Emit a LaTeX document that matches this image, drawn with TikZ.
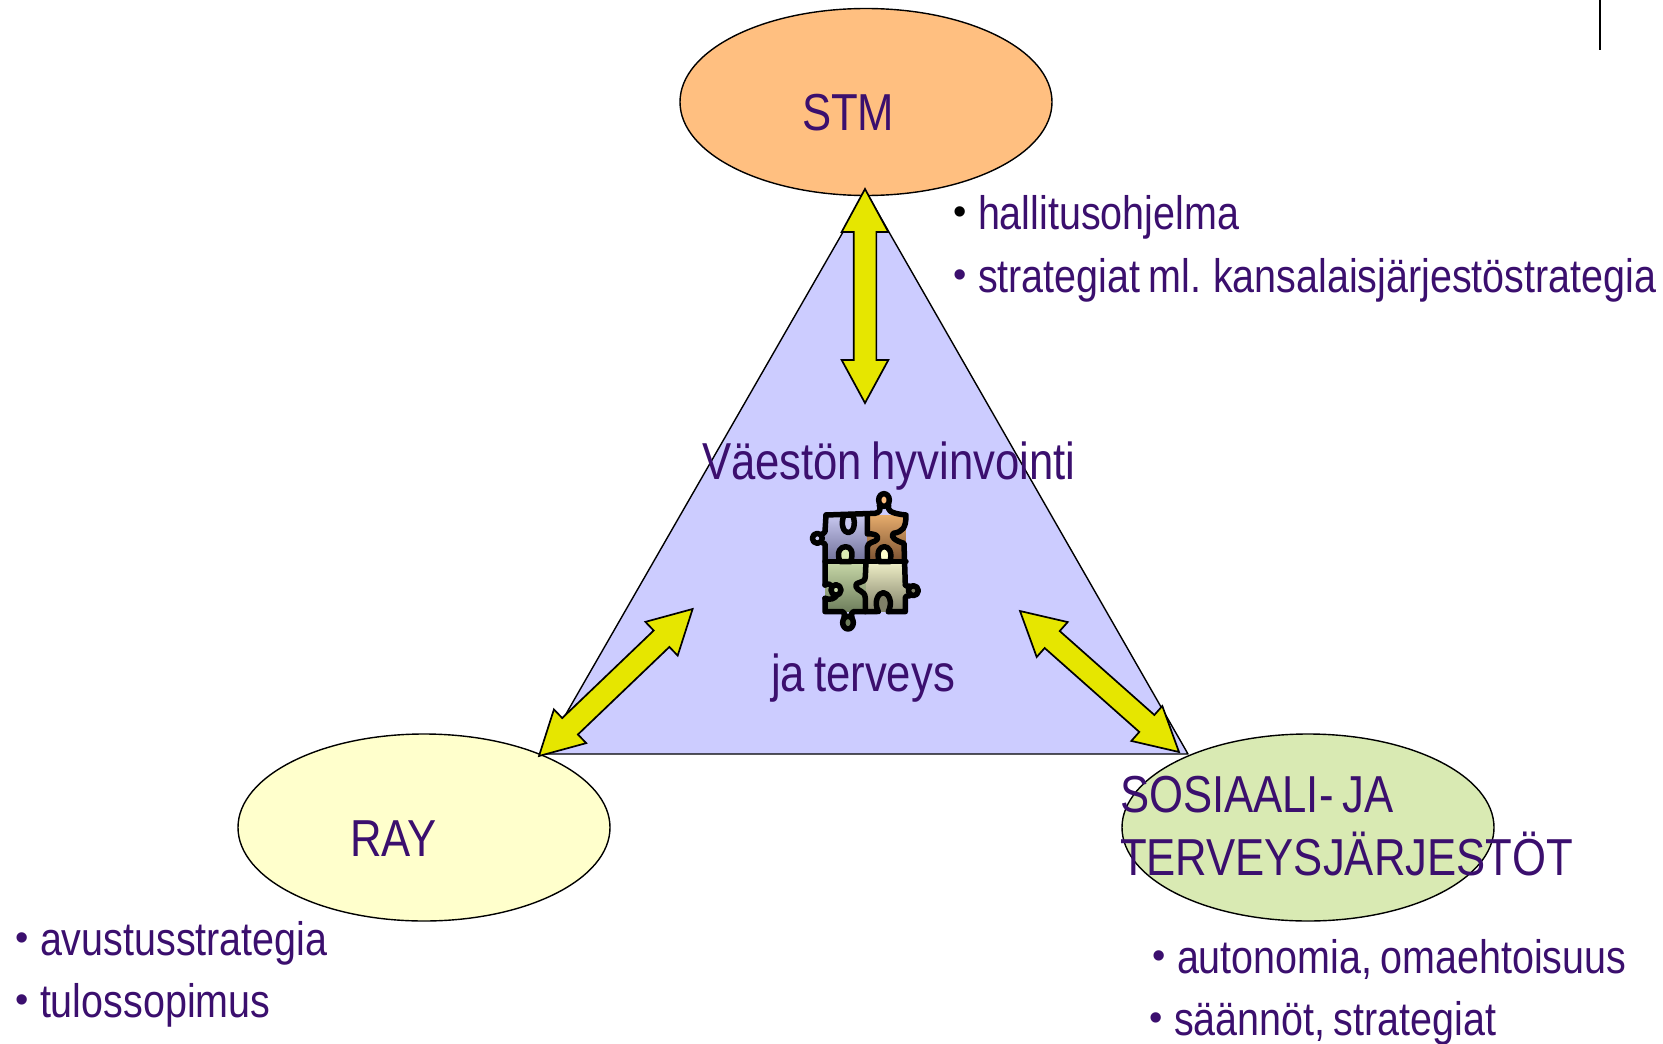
\documentclass[tikz,border=0pt]{standalone}
\usepackage{fontspec}
\setmainfont[FakeStretch=0.84,WordSpace=0.75]{Liberation Sans}
\newfontfamily\bulfont{Liberation Sans}
\usetikzlibrary{shapes.geometric,shapes.arrows,calc}
\definecolor{ink}{HTML}{3B0F6E}
\definecolor{tri}{HTML}{CCCCFF}
\definecolor{yel}{HTML}{E6E600}
\definecolor{stmc}{HTML}{FFBF80}
\definecolor{rayc}{HTML}{FFFFCC}
\definecolor{jarc}{HTML}{D9EAB3}
\definecolor{tl1}{HTML}{C8C8F0}
\definecolor{tl2}{HTML}{707098}
\definecolor{tr1}{HTML}{E6AC6C}
\definecolor{tr2}{HTML}{7A5030}
\definecolor{bl1}{HTML}{C8D8A8}
\definecolor{bl2}{HTML}{6E7E5C}
\definecolor{br1}{HTML}{F0F0C8}
\definecolor{br2}{HTML}{808068}
\newcommand{\bul}[1]{\makebox[25pt][l]{\bulfont\fontsize{38}{38}\selectfont\color{#1}\raisebox{5pt}{•}}}
\newcommand{\twoarrow}[2]{\path let \p1=($(#1)-(#2)$),\n1={atan2(\y1,\x1)},\n2={veclen(\x1,\y1)} in node[twoway,rotate=\n1,minimum height=\n2] at ($(#1)!.5!(#2)$) {};}
\tikzset{
 every node/.style={inner sep=0pt,outer sep=0pt},
 party/.style={ellipse,draw=black,line width=1.4pt,minimum width=372pt,minimum height=187pt},
 big/.style={text=ink,anchor=base west,font=\fontsize{52}{60}\selectfont},
 txt/.style={text=ink,anchor=base west,font=\fontsize{47}{54}\selectfont},
 twoway/.style={double arrow,draw=black,line width=1.7pt,fill=yel,inner ysep=10.5pt,inner xsep=0pt,double arrow head extend=12pt,double arrow tip angle=57,shape border uses incircle=false},
 piece/.style={line width=5.5pt,draw=black,line join=round,line cap=round},
}
\begin{document}
\begin{tikzpicture}[x=1pt,y=-1pt]
\useasboundingbox (0,0) rectangle (1663,1044);
\fill[white] (0,0) rectangle (1663,1044);
\draw[line width=1.4pt] (1600,0) -- (1600,50);
\coordinate (apex) at (866,192);
\coordinate (cl) at (543,754);
\coordinate (cr) at (1188,754);
\draw[fill=tri,line width=1.4pt,line join=round] (apex) -- (cl) -- (cr) -- cycle;
\node[party,fill=stmc] (stm) at (866,102) {};
\node[party,fill=rayc] (ray) at (424,827.5) {};
\node[party,fill=jarc] (jar) at (1308,827.5) {};
\coordinate (a1) at (865,189); \coordinate (a2) at (865,403);
\coordinate (b1) at (539,756); \coordinate (b2) at (692.6,609);
\coordinate (c1) at (1179,752); \coordinate (c2) at (1020,611);
\twoarrow{a1}{a2}
\twoarrow{b1}{b2}
\twoarrow{c1}{c2}
\node[big] (t1) at (802,130) {STM};
\node[big] (t2) at (350,856) {RAY};
\node[big] (t3) at (1120,812) {SOSIAALI- JA};
\node[big] (t4) at (1120,875) {TERVEYSJÄRJESTÖT};
\node[big] (t5) at (702,479) {Väestön hyvinvointi};
\node[big] (t6) at (771,691) {ja terveys};
\node[txt] (l1) at (953,229) {\bul{black}hallitusohjelma};
\node[txt] (l2) at (953,292) {\bul{ink}strategiat ml. kansalaisjärjestöstrategia};
\node[txt] (l3) at (15,955) {\bul{ink}avustusstrategia};
\node[txt] (l4) at (15,1017) {\bul{ink}tulossopimus};
\node[txt] (l5) at (1152,973) {\bul{ink}autonomia, omaehtoisuus};
\node[txt] (l6) at (1149,1035) {\bul{ink}säännöt, strategiat};
\begin{scope}[shift={(780,470)},x=0.3333pt,y=-0.3333pt]
 \shade[top color=tl1,bottom color=tl2] (135,135) rectangle (262,275);
 \shade[top color=tr1,bottom color=tr2] (262,135) rectangle (378,275);
 \shade[top color=bl1,bottom color=bl2] (135,275) rectangle (258,425);
 \shade[top color=br1,bottom color=br2] (258,275) rectangle (378,425);
 % knobs
 \draw[piece,fill=tl1] (112,205) circle (15);
 \draw[piece,fill=stmc] (312,90) ellipse (16 and 19);
 \draw[piece,fill=bl2] (204,458) ellipse (16 and 19);
 \draw[piece,fill=br2] (400,362) circle (15);
 % outline
 \draw[piece] (138,135) -- (285,130) .. controls (300,128) and (303,118) .. (298,105);
 \draw[piece] (326,105) .. controls (322,118) and (325,130) .. (378,135) .. controls (378,175) and (368,185) .. (340,190) .. controls (330,200) and (345,212) .. (372,220) -- (376,345);
 \draw[piece] (376,345) .. controls (380,350) and (383,350) .. (388,348);
 \draw[piece] (388,378) .. controls (383,376) and (378,378) .. (376,382) -- (376,425) -- (325,425);
 \draw[piece] (290,425) -- (220,425) .. controls (212,428) and (213,435) .. (216,442);
 \draw[piece] (192,442) .. controls (195,435) and (195,428) .. (188,425) -- (135,425) -- (135,385);
 \draw[piece] (135,345) -- (135,222) .. controls (128,218) and (128,218) .. (123,216);
 \draw[piece] (123,194) .. controls (128,192) and (132,190) .. (135,185) -- (138,135);
 % inner
 \draw[piece] (135,275) -- (175,275);
 \draw[piece] (215,275) -- (290,275);
 \draw[piece] (335,275) -- (378,275);
 \draw[piece,fill=jarc] (180,275) .. controls (168,245) and (182,230) .. (197,230) .. controls (212,230) and (222,245) .. (212,275) -- cycle;
 \draw[piece,fill=rayc] (298,275) .. controls (288,245) and (300,230) .. (313,230) .. controls (326,230) and (338,245) .. (330,275) -- cycle;
 \draw[piece,fill=tl1] (192,135) .. controls (180,165) and (192,188) .. (205,188) .. controls (218,188) and (230,165) .. (218,135) -- cycle;
 \draw[piece] (262,135) -- (262,192) .. controls (280,190) and (298,195) .. (292,208) .. controls (285,218) and (262,215) .. (262,232) -- (262,275);
 \draw[piece] (258,275) -- (256,320) .. controls (255,345) and (225,330) .. (228,350) .. controls (232,365) and (255,360) .. (256,385) -- (256,425);
 \draw[piece,fill=br2] (295,425) .. controls (280,395) and (295,368) .. (310,368) .. controls (325,368) and (340,395) .. (325,425);
 \draw[piece,fill=bl1] (168,360) ellipse (15 and 16);
 \draw[piece] (135,345) .. controls (145,340) and (150,342) .. (156,348);
 \draw[piece] (135,385) .. controls (150,392) and (165,385) .. (170,376);
\end{scope}
\end{tikzpicture}
\end{document}
